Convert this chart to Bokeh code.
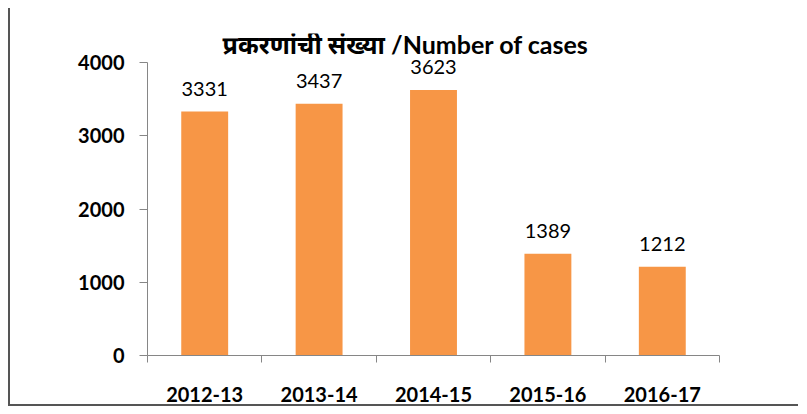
from bokeh.plotting import figure
from bokeh.models import ColumnDataSource, FixedTicker, Range1d, Label, LabelSet
from bokeh.core.properties import value
from bokeh.embed import file_html
from bokeh.resources import INLINE

years = ["2012-13", "2013-14", "2014-15", "2015-16", "2016-17"]
cases = [3331, 3437, 3623, 1389, 1212]
y_ticks = [0, 1000, 2000, 3000, 4000]
title_text = "प्रकरणांची संख्या /Number of cases"

xs = [i + 0.5 for i in range(len(years))]
src = ColumnDataSource(dict(x=xs, y=cases, label=[str(v) for v in cases]))

FONT = "Lato, 'Noto Sans Devanagari', 'Noto Sans', sans-serif"
AX = "#868686"

# frame extends above the 4000 tick so that value labels are not clipped
y_top = y_ticks[-1] * 322 / 293

p = figure(width=790, height=398, output_backend="svg", toolbar_location=None,
           x_range=Range1d(0, len(years)), y_range=Range1d(0, y_top),
           min_border_left=137, min_border_right=81, min_border_top=25, min_border_bottom=51)
p.margin = (8, 0, 0, 8)
p.styles = {"border-left": "2px solid #555555", "border-bottom": "2px solid #555555"}
p.title.text = ""
p.outline_line_color = None
p.background_fill_color = "white"
p.border_fill_color = "white"
p.xgrid.visible = False
p.ygrid.visible = False

p.vbar(x="x", top="y", width=0.41, source=src, fill_color="#F79646", line_color=None)
labels = LabelSet(x="x", y="y", text="label", source=src, text_align="center",
                  text_baseline="alphabetic", y_offset=16, text_font=value(FONT),
                  text_font_size="20px", text_color="#000000")
p.add_layout(labels)

title = Label(x=75, y=312, x_units="screen", y_units="screen", text=title_text,
              text_font=FONT, text_font_size="25px", text_font_style="bold",
              text_color="#000000", text_baseline="alphabetic", text_align="left")
p.add_layout(title)

p.xaxis.ticker = FixedTicker(ticks=xs, minor_ticks=list(range(len(years) + 1)))
p.xaxis.major_label_overrides = {x: y for x, y in zip(xs, years)}
p.xaxis.major_tick_out = 0
p.xaxis.major_tick_in = 0
p.xaxis.minor_tick_out = 7
p.xaxis.minor_tick_in = 0
p.xaxis.minor_tick_line_color = AX
p.xaxis.axis_line_color = AX
p.xaxis.major_label_standoff = 24
p.xaxis.major_label_text_font = FONT
p.xaxis.major_label_text_font_size = "20px"
p.xaxis.major_label_text_font_style = "bold"
p.xaxis.major_label_text_color = "#000000"

p.yaxis.ticker = FixedTicker(ticks=y_ticks, minor_ticks=[])
p.yaxis.bounds = (y_ticks[0], y_ticks[-1])
p.yaxis.major_tick_out = 8
p.yaxis.major_tick_in = 0
p.yaxis.major_tick_line_color = AX
p.yaxis.axis_line_color = AX
p.yaxis.major_label_standoff = 15
p.yaxis.major_label_text_font = FONT
p.yaxis.major_label_text_font_size = "20px"
p.yaxis.major_label_text_font_style = "bold"
p.yaxis.major_label_text_color = "#000000"

open("out.html", "w").write(file_html(p, INLINE))
